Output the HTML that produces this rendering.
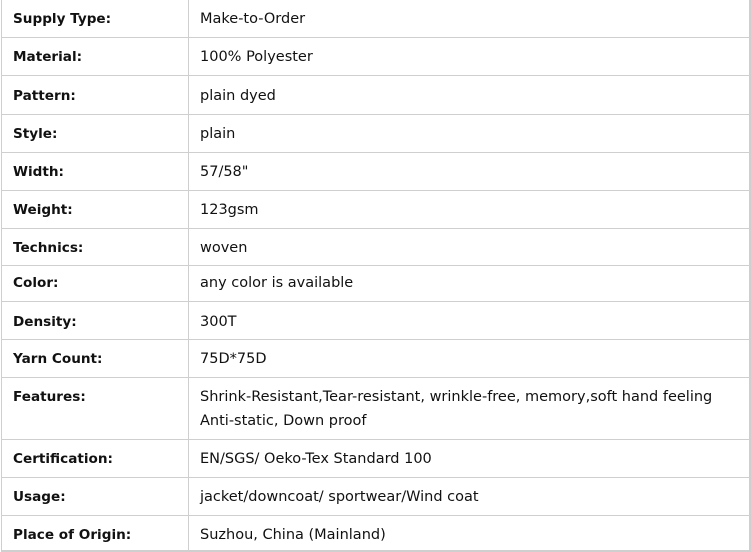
<!DOCTYPE html>
<html><head><meta charset="utf-8"><style>
body{margin:0;width:751px;height:552px;background:#fff;position:relative;overflow:hidden;font-family:"DejaVu Sans","Liberation Sans",sans-serif;font-size:14.5px;color:#111}
.h{position:absolute;left:1px;width:749px;height:1px;background:#cfcfcf}
.v{position:absolute;top:0;width:1px;height:552px;background:#cfcfcf}
.t{position:absolute;line-height:24px;white-space:nowrap;margin-top:1px}
.l{left:13px;font-weight:bold;font-size:13.6px}
.r{left:200px}
</style></head><body>
<div class="v" style="left:1px"></div><div class="v" style="left:188px"></div><div class="v" style="left:749px;width:2px"></div>
<div class="h" style="top:37px"></div><div class="h" style="top:75px"></div><div class="h" style="top:114px"></div><div class="h" style="top:152px"></div><div class="h" style="top:190px"></div><div class="h" style="top:228px"></div><div class="h" style="top:265px"></div><div class="h" style="top:301px"></div><div class="h" style="top:339px"></div><div class="h" style="top:377px"></div><div class="h" style="top:439px"></div><div class="h" style="top:477px"></div><div class="h" style="top:515px"></div><div class="h" style="top:550px;height:2px"></div>
<div class="t l" style="top:6px">Supply Type:</div><div class="t r" style="top:6px">Make-to-Order</div>
<div class="t l" style="top:44px">Material:</div><div class="t r" style="top:44px">100% Polyester</div>
<div class="t l" style="top:83px">Pattern:</div><div class="t r" style="top:83px">plain dyed</div>
<div class="t l" style="top:121px">Style:</div><div class="t r" style="top:121px">plain</div>
<div class="t l" style="top:159px">Width:</div><div class="t r" style="top:159px">57/58"</div>
<div class="t l" style="top:197px">Weight:</div><div class="t r" style="top:197px">123gsm</div>
<div class="t l" style="top:235px">Technics:</div><div class="t r" style="top:235px">woven</div>
<div class="t l" style="top:270px">Color:</div><div class="t r" style="top:270px">any color is available</div>
<div class="t l" style="top:309px">Density:</div><div class="t r" style="top:309px">300T</div>
<div class="t l" style="top:346px">Yarn Count:</div><div class="t r" style="top:346px">75D*75D</div>
<div class="t l" style="top:384px">Features:</div><div class="t r" style="top:384px">Shrink-Resistant,Tear-resistant, wrinkle-free, memory,soft hand feeling<br>Anti-static, Down proof</div>
<div class="t l" style="top:446px">Certification:</div><div class="t r" style="top:446px">EN/SGS/ Oeko-Tex Standard 100</div>
<div class="t l" style="top:484px">Usage:</div><div class="t r" style="top:484px">jacket/downcoat/ sportwear/Wind coat</div>
<div class="t l" style="top:522px">Place of Origin:</div><div class="t r" style="top:522px">Suzhou, China (Mainland)</div>
</body></html>
